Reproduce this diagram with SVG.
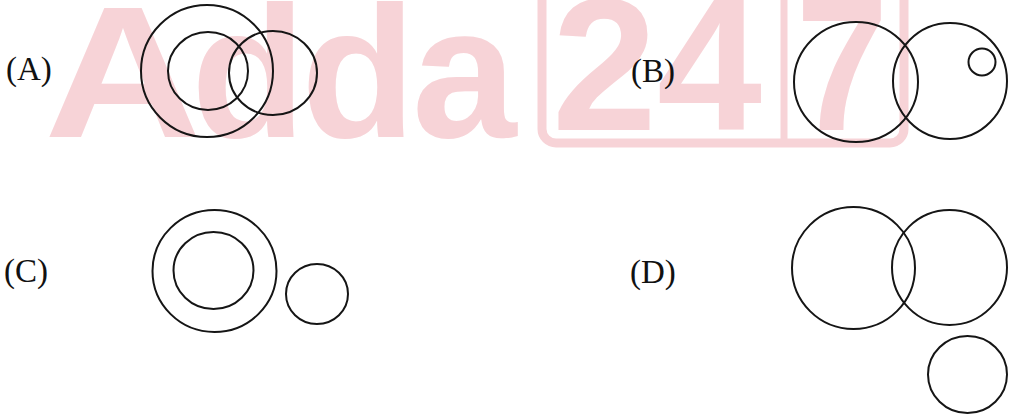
<svg xmlns="http://www.w3.org/2000/svg" width="1009" height="417" viewBox="0 0 1009 417">
<style>
.wm{font-family:"Liberation Sans",Arial,sans-serif;font-weight:bold;fill:#f7d3d7}
.lbl{font-family:"Liberation Serif","Times New Roman",serif;font-size:33px;fill:#111}
.c{fill:none;stroke:#151515;stroke-width:2}
</style>
<rect width="1009" height="417" fill="#fff"/>
<g id="watermark">
<text class="wm" font-size="188" x="44" y="137" textLength="158" lengthAdjust="spacingAndGlyphs">A</text>
<text class="wm" font-size="188" x="191 301 412" y="137">dda</text>
<rect x="542" y="-20" width="362" height="163" rx="14" fill="none" stroke="#f7d3d7" stroke-width="9"/>
<line x1="784" y1="0" x2="784" y2="143" stroke="#f7d3d7" stroke-width="7"/>
<text class="wm" font-size="190" x="552" y="130" textLength="210" lengthAdjust="spacingAndGlyphs">24</text>
<text class="wm" font-size="190" x="796" y="130" textLength="92" lengthAdjust="spacingAndGlyphs">7</text>
</g>
<g id="optionA">
<text class="lbl" x="6" y="80">(A)</text>
<circle class="c" cx="207" cy="71" r="66"/>
<ellipse class="c" cx="208" cy="71" rx="40" ry="39"/>
<ellipse class="c" cx="273" cy="73" rx="44" ry="42"/>
</g>
<g id="optionB">
<text class="lbl" x="631" y="82">(B)</text>
<ellipse class="c" cx="856" cy="82" rx="62" ry="60"/>
<ellipse class="c" cx="950" cy="81" rx="57" ry="58"/>
<circle class="c" cx="982" cy="62" r="13.5"/>
</g>
<g id="optionC">
<text class="lbl" x="4" y="282">(C)</text>
<ellipse class="c" cx="214.5" cy="271" rx="62" ry="61"/>
<ellipse class="c" cx="213.5" cy="270.5" rx="40" ry="38.5"/>
<ellipse class="c" cx="317" cy="294" rx="31" ry="30"/>
</g>
<g id="optionD">
<text class="lbl" x="630" y="283">(D)</text>
<ellipse class="c" cx="853.5" cy="268" rx="61.5" ry="61"/>
<circle class="c" cx="949.5" cy="267.5" r="57.5"/>
<ellipse class="c" cx="967.5" cy="374.5" rx="39.5" ry="38.5"/>
</g>
</svg>
